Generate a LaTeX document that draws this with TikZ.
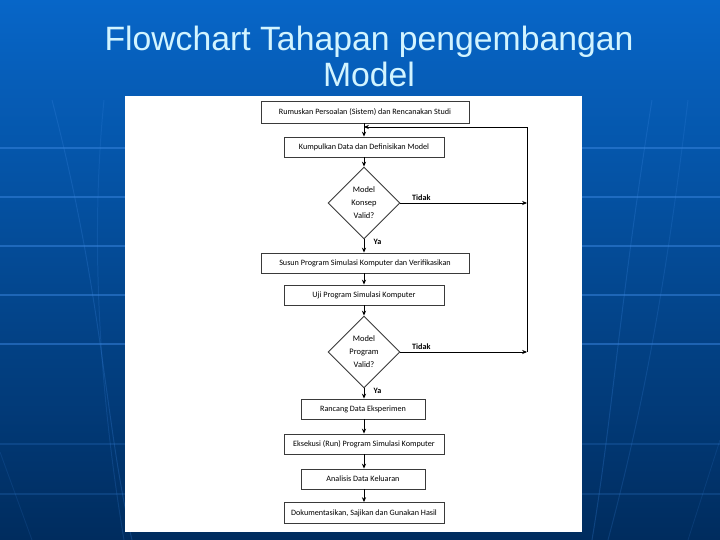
\documentclass[tikz,border=0pt]{standalone}
\usepackage{fontspec}
\setmainfont{Carlito}
\newfontfamily\titlefont{Liberation Sans}
\usetikzlibrary{arrows.meta, positioning, shapes.geometric}
\definecolor{slidetop}{HTML}{0766C8}
\definecolor{slidebot}{HTML}{002C5E}
\definecolor{gridline}{HTML}{3A86E0}
\definecolor{titletext}{HTML}{D2F4FF}
\definecolor{boxline}{HTML}{3A3A3A}

\begin{document}
\begin{tikzpicture}[
    >={Stealth[length=3.5pt, width=3pt]},
    stepbox/.style={draw=boxline, line width=0.6pt, fill=white, minimum width=#1, minimum height=0.5cm, align=center, font=\fontsize{5.8}{7}\selectfont, inner sep=1pt},
    decision/.style={draw=boxline, line width=0.6pt, fill=white, diamond, minimum width=1.8cm, minimum height=1.8cm, inner sep=0pt, align=center, font=\fontsize{6}{9.2}\selectfont},
    flow/.style={->, line width=0.6pt, black},
    answer/.style={font=\bfseries\fontsize{5.8}{7}\selectfont, inner sep=1pt},
]
    % slide background
    \shade[top color=slidetop, bottom color=slidebot] (0,0) rectangle (18,13.5);
    \useasboundingbox (0,0) rectangle (18,13.5);
    \foreach \y in {9.8, 8.575, 7.35, 6.125, 4.9} {
        \draw[gridline, opacity=0.5, line width=0.8pt] (0,\y) -- (18,\y);
    }
    \foreach \y in {2.4, 1.15} {
        \draw[gridline, opacity=0.2, line width=0.8pt] (0,\y) -- (18,\y);
    }
    \draw[gridline, opacity=0.25, line width=0.7pt] (1.3,11) .. controls (2.6,6) and (2.6,3) .. (3.3,0);
    \draw[gridline, opacity=0.2, line width=0.7pt] (2.6,11) .. controls (2.2,7) and (2.6,3) .. (3.1,0);
    \draw[gridline, opacity=0.15, line width=0.6pt] (0,2.2) -- (0.8,0);
    \draw[gridline, opacity=0.25, line width=0.7pt] (16.3,11) .. controls (15.5,6) and (15.3,3) .. (14.8,0);
    \draw[gridline, opacity=0.2, line width=0.7pt] (17.2,11) .. controls (16.6,6) and (16.0,3) .. (15.2,0);
    \draw[gridline, opacity=0.15, line width=0.6pt] (18,2.5) -- (17.2,0);

    % title
    \node[titletext, font=\titlefont\fontsize{24}{26.3}\selectfont, align=center, anchor=base] (title) at (9.225,11.325) {Flowchart Tahapan pengembangan\\Model};

    % white panel
    \fill[white] (3.125,0.2) rectangle (14.55,11.1);

    \node[stepbox=5.2cm, minimum height=0.55cm] (rumus) at (9.125,10.7) {Rumuskan Persoalan (Sistem) dan Rencanakan Studi};
    \node[stepbox=4cm] (kumpul) at (9.1,9.825) {Kumpulkan Data dan Definisikan Model};
    \node[decision] (konsep) at (9.1,8.425) {Model\\Konsep\\Valid?};
    \node[stepbox=5.2cm] (susun) at (9.125,6.925) {Susun Program Simulasi Komputer dan Verifikasikan};
    \node[stepbox=4cm] (uji) at (9.1,6.125) {Uji Program Simulasi Komputer};
    \node[decision] (program) at (9.1,4.7) {Model\\Program\\Valid?};
    \node[stepbox=3.1cm] (rancang) at (9.075,3.275) {Rancang Data Eksperimen};
    \node[stepbox=4cm] (eksekusi) at (9.1,2.4) {Eksekusi (Run) Program Simulasi Komputer};
    \node[stepbox=3.1cm] (analisis) at (9.075,1.525) {Analisis Data Keluaran};
    \node[stepbox=4cm, minimum height=0.525cm] (dokumen) at (9.1,0.675) {Dokumentasikan, Sajikan dan Gunakan Hasil};

    \coordinate (backR) at (13.175,10.325);
    \coordinate (backL) at (9.1,10.325);

    \draw[flow] (rumus.south -| kumpul) -- (kumpul);
    \draw[flow] (kumpul) -- (konsep);
    \draw[flow] (konsep) -- (konsep |- susun.north);
    \draw[flow] (susun.south -| uji) -- (uji);
    \draw[flow] (uji) -- (program);
    \draw[flow] (program) -- (program |- rancang.north);
    \draw[flow] (rancang.south -| eksekusi) -- (eksekusi);
    \draw[flow] (eksekusi) -- (eksekusi |- analisis.north);
    \draw[flow] (analisis.south -| dokumen) -- (dokumen);

    % loop back
    \draw[flow] (konsep.east) -- (konsep.east -| backR);
    \draw[flow] (program.east) -- (program.east -| backR);
    \draw[flow] (program.east -| backR) -- (backR) -- (backL);

    \node[answer, anchor=south west] (tidak1) at ([xshift=0.25cm, yshift=0.02cm]konsep.east) {Tidak};
    \node[answer, anchor=south west] (tidak2) at ([xshift=0.25cm, yshift=0.02cm]program.east) {Tidak};
    \node[answer, anchor=west] (ya1) at ([xshift=0.2cm, yshift=-0.05cm]konsep.south) {Ya};
    \node[answer, anchor=west] (ya2) at ([xshift=0.2cm, yshift=-0.05cm]program.south) {Ya};
\end{tikzpicture}
\end{document}
